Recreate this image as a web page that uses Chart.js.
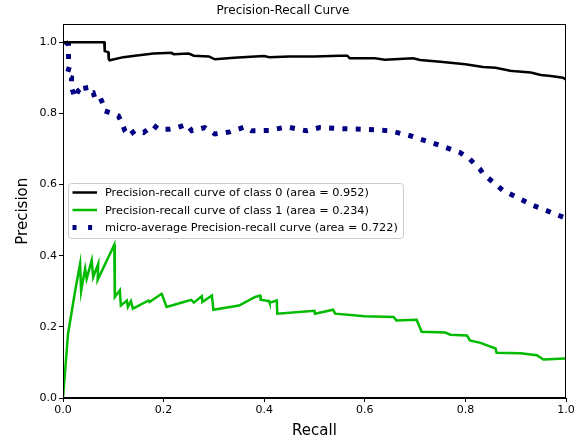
<!DOCTYPE html>
<html>
<head>
<meta charset="utf-8">
<script src="https://cdn.jsdelivr.net/npm/chart.js@4.4.0/dist/chart.umd.min.js"></script>
<style>
  html, body { margin: 0; padding: 0; background: #fff; }
  #wrap { width: 583px; height: 446px; }
</style>
</head>
<body>
<div id="wrap"><canvas id="prChart" width="583" height="446"></canvas></div>
<script>
var recall0 = [0, 0.082, 0.083, 0.09, 0.091, 0.093, 0.12, 0.143, 0.18, 0.216, 0.22, 0.25, 0.26, 0.29, 0.302, 0.34, 0.382, 0.40, 0.41, 0.45, 0.50, 0.55, 0.565, 0.57, 0.62, 0.64, 0.696, 0.71, 0.75, 0.80, 0.835, 0.86, 0.889, 0.90, 0.93, 0.95, 0.97, 0.994, 1.0];
var precision0 = [1.0, 1.0, 0.975, 0.972, 0.952, 0.949, 0.958, 0.962, 0.968, 0.970, 0.966, 0.968, 0.962, 0.960, 0.952, 0.956, 0.960, 0.961, 0.958, 0.960, 0.960, 0.962, 0.962, 0.955, 0.955, 0.951, 0.955, 0.950, 0.945, 0.938, 0.930, 0.928, 0.920, 0.918, 0.915, 0.908, 0.905, 0.900, 0.895];

var recall1 = [0, 0.01, 0.024, 0.034, 0.036, 0.044, 0.047, 0.057, 0.06, 0.07, 0.069, 0.102, 0.103, 0.113, 0.115, 0.127, 0.129, 0.135, 0.139, 0.17, 0.172, 0.196, 0.197, 0.206, 0.24, 0.255, 0.26, 0.276, 0.277, 0.296, 0.299, 0.35, 0.382, 0.392, 0.393, 0.41, 0.411, 0.425, 0.426, 0.5, 0.501, 0.537, 0.541, 0.6, 0.657, 0.663, 0.703, 0.713, 0.76, 0.77, 0.803, 0.809, 0.83, 0.86, 0.862, 0.91, 0.942, 0.955, 0.998];
var precision1 = [0, 0.18, 0.30, 0.377, 0.30, 0.364, 0.335, 0.387, 0.34, 0.377, 0.332, 0.431, 0.284, 0.303, 0.26, 0.274, 0.256, 0.272, 0.251, 0.274, 0.27, 0.293, 0.29, 0.256, 0.27, 0.276, 0.268, 0.286, 0.27, 0.288, 0.248, 0.26, 0.284, 0.288, 0.276, 0.272, 0.268, 0.274, 0.237, 0.245, 0.237, 0.248, 0.237, 0.230, 0.228, 0.218, 0.220, 0.186, 0.184, 0.178, 0.176, 0.162, 0.155, 0.139, 0.127, 0.126, 0.12, 0.108, 0.111];

var recallMicro = [0.005, 0.011, 0.011, 0.014, 0.007, 0.017, 0.017, 0.024, 0.03, 0.044, 0.047, 0.06, 0.064, 0.074, 0.08, 0.083, 0.093, 0.11, 0.117, 0.123, 0.13, 0.143, 0.16, 0.18, 0.19, 0.21, 0.223, 0.246, 0.256, 0.282, 0.302, 0.332, 0.362, 0.375, 0.41, 0.445, 0.484, 0.511, 0.55, 0.604, 0.65, 0.69, 0.743, 0.789, 0.809, 0.829, 0.836, 0.875, 0.935, 0.995, 1.0];
var precisionMicro = [1.0, 0.993, 0.949, 0.937, 0.905, 0.90, 0.872, 0.844, 0.863, 0.881, 0.858, 0.858, 0.84, 0.844, 0.825, 0.807, 0.802, 0.793, 0.774, 0.751, 0.737, 0.751, 0.746, 0.767, 0.755, 0.755, 0.758, 0.769, 0.751, 0.76, 0.742, 0.748, 0.762, 0.751, 0.752, 0.762, 0.751, 0.76, 0.757, 0.755, 0.751, 0.737, 0.713, 0.69, 0.671, 0.643, 0.629, 0.583, 0.541, 0.508, 0.5];

var seriesLabels = [
  "Precision-recall curve of class 0 (area = 0.952)",
  "Precision-recall curve of class 1 (area = 0.234)",
  "micro-average Precision-recall curve (area = 0.722)"
];
var xTicks = [0, 0.2, 0.4, 0.6, 0.8, 1.0];
var yTicks = [0, 0.2, 0.4, 0.6, 0.8, 1.0];

function toPoints(xs, ys) {
  return xs.map(function (x, i) { return { x: x, y: ys[i] }; });
}

var font = "'DejaVu Sans', sans-serif";

// axes frame + legend box in the middle of the plot
var framePlugin = {
  id: "frame",
  afterDraw: function (chart) {
    var ctx = chart.ctx, a = chart.chartArea;
    ctx.save();
    ctx.strokeStyle = "#000";
    ctx.lineWidth = 1;
    ctx.strokeRect(Math.round(a.left) + 0.5, Math.round(a.top) + 0.5,
      Math.round(a.right - a.left) - 1, Math.round(a.bottom - a.top) - 1);

    // legend
    var bx = 68, by = 183, bw = 335, bh = 55;
    ctx.fillStyle = "rgba(255,255,255,0.8)";
    ctx.strokeStyle = "#cccccc";
    ctx.beginPath();
    ctx.roundRect(bx + 0.5, by + 0.5, bw, bh, 3);
    ctx.fill();
    ctx.stroke();
    ctx.font = "11.3px " + font;
    ctx.textBaseline = "middle";
    chart.data.datasets.forEach(function (ds, i) {
      var y = by + 9.5 + i * 17.5;
      ctx.strokeStyle = ds.borderColor;
      ctx.lineWidth = ds.borderWidth;
      ctx.setLineDash(ds.borderDash ? [4, 11.6] : []);
      ctx.beginPath();
      ctx.moveTo(72.5, y);
      ctx.lineTo(97, y);
      ctx.stroke();
      ctx.setLineDash([]);
      ctx.fillStyle = "#000";
      ctx.fillText(ds.label, 105, y + 1);
    });
    ctx.restore();
  }
};

new Chart(document.getElementById("prChart").getContext("2d"), {
  type: "line",
  data: {
    datasets: [
      {
        label: seriesLabels[0],
        data: toPoints(recall0, precision0),
        borderColor: "#000000",
        borderWidth: 2.5
      },
      {
        label: seriesLabels[1],
        data: toPoints(recall1, precision1),
        borderColor: "#00bb00",
        borderWidth: 2.5
      },
      {
        label: seriesLabels[2],
        data: toPoints(recallMicro, precisionMicro),
        borderColor: "#000080",
        borderWidth: 5,
        borderDash: [5, 8.3],
        borderCapStyle: "butt"
      }
    ]
  },
  options: {
    responsive: false,
    animation: false,
    elements: { point: { radius: 0 }, line: { tension: 0 } },
    layout: { padding: { left: 0, right: 17, top: 0, bottom: 0 } },
    plugins: {
      legend: { display: false },
      tooltip: { enabled: false },
      title: {
        display: true,
        text: "Precision-Recall Curve",
        color: "#000",
        font: { family: font, size: 12, weight: "normal" },
        padding: { top: 4, bottom: 6 }
      }
    },
    scales: {
      x: {
        type: "linear",
        min: 0,
        max: 1,
        afterBuildTicks: function (s) { s.ticks = xTicks.map(function (v) { return { value: v }; }); },
        afterFit: function (s) { s.height = 48; },
        grid: { drawOnChartArea: false, drawTicks: true, tickLength: 4, color: "#000" },
        border: { color: "#000" },
        ticks: {
          color: "#000",
          font: { family: font, size: 11 },
          padding: 2,
          maxRotation: 0,
          callback: function (v) { return v.toFixed(1); }
        },
        title: {
          display: true,
          text: "Recall",
          color: "#000",
          font: { family: font, size: 15 },
          padding: { top: 2, bottom: 6 }
        }
      },
      y: {
        type: "linear",
        min: 0,
        max: 1.05,
        afterBuildTicks: function (s) { s.ticks = yTicks.map(function (v) { return { value: v }; }); },
        afterFit: function (s) { s.width = 63; },
        grid: { drawOnChartArea: false, drawTicks: true, tickLength: 4, color: "#000" },
        border: { color: "#000" },
        ticks: {
          color: "#000",
          font: { family: font, size: 11 },
          padding: 2,
          callback: function (v) { return v.toFixed(1); }
        },
        title: {
          display: true,
          text: "Precision",
          color: "#000",
          font: { family: font, size: 15 },
          padding: { top: 14, bottom: 2 }
        }
      }
    }
  },
  plugins: [framePlugin]
});
</script>
</body>
</html>
